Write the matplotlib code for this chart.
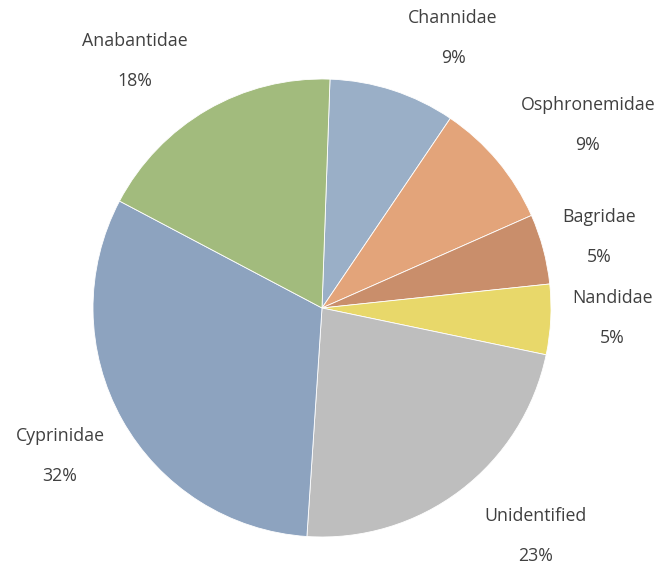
import numpy as np
import matplotlib.pyplot as plt

plt.rcParams['font.family'] = ['Open Sans', 'DejaVu Sans']

families = ["Channidae", "Osphronemidae", "Bagridae", "Nandidae",
            "Unidentified", "Cyprinidae", "Anabantidae"]
shares = [9, 9, 5, 5, 23, 32, 18]
colors = ["#9aafc7", "#e3a47a", "#c98e6b", "#e8d86a",
          "#bebebe", "#8da3bf", "#a2bb7d"]

# label centres in pixels (from top-left), pie centre at (322, 308), radius 229
label_px = [(453, 38), (588, 125), (599, 237), (612, 318),
            (536, 536), (60, 456), (135, 61)]
R, CX, CY = 229, 322, 308

fig = plt.figure(figsize=(6.62, 5.67), dpi=100)
ax = fig.add_axes([0, 0, 1, 1])

wedges, _ = ax.pie(
    shares,
    colors=colors,
    startangle=88,
    counterclock=False,
    wedgeprops=dict(edgecolor="white", linewidth=0.6),
)

for name, s, (px, py) in zip(families, shares, label_px):
    ax.text((px - CX) / R, (CY - py) / R, f"{name}\n\n{s}%",
            ha="center", va="center", fontsize=12.8, color="#404040",
            linespacing=1.15)

ax.set_aspect("auto")
ax.set_xlim(-CX / R, (662 - CX) / R)
ax.set_ylim(-(567 - CY) / R, CY / R)

fig.savefig("out.png", dpi=100)
